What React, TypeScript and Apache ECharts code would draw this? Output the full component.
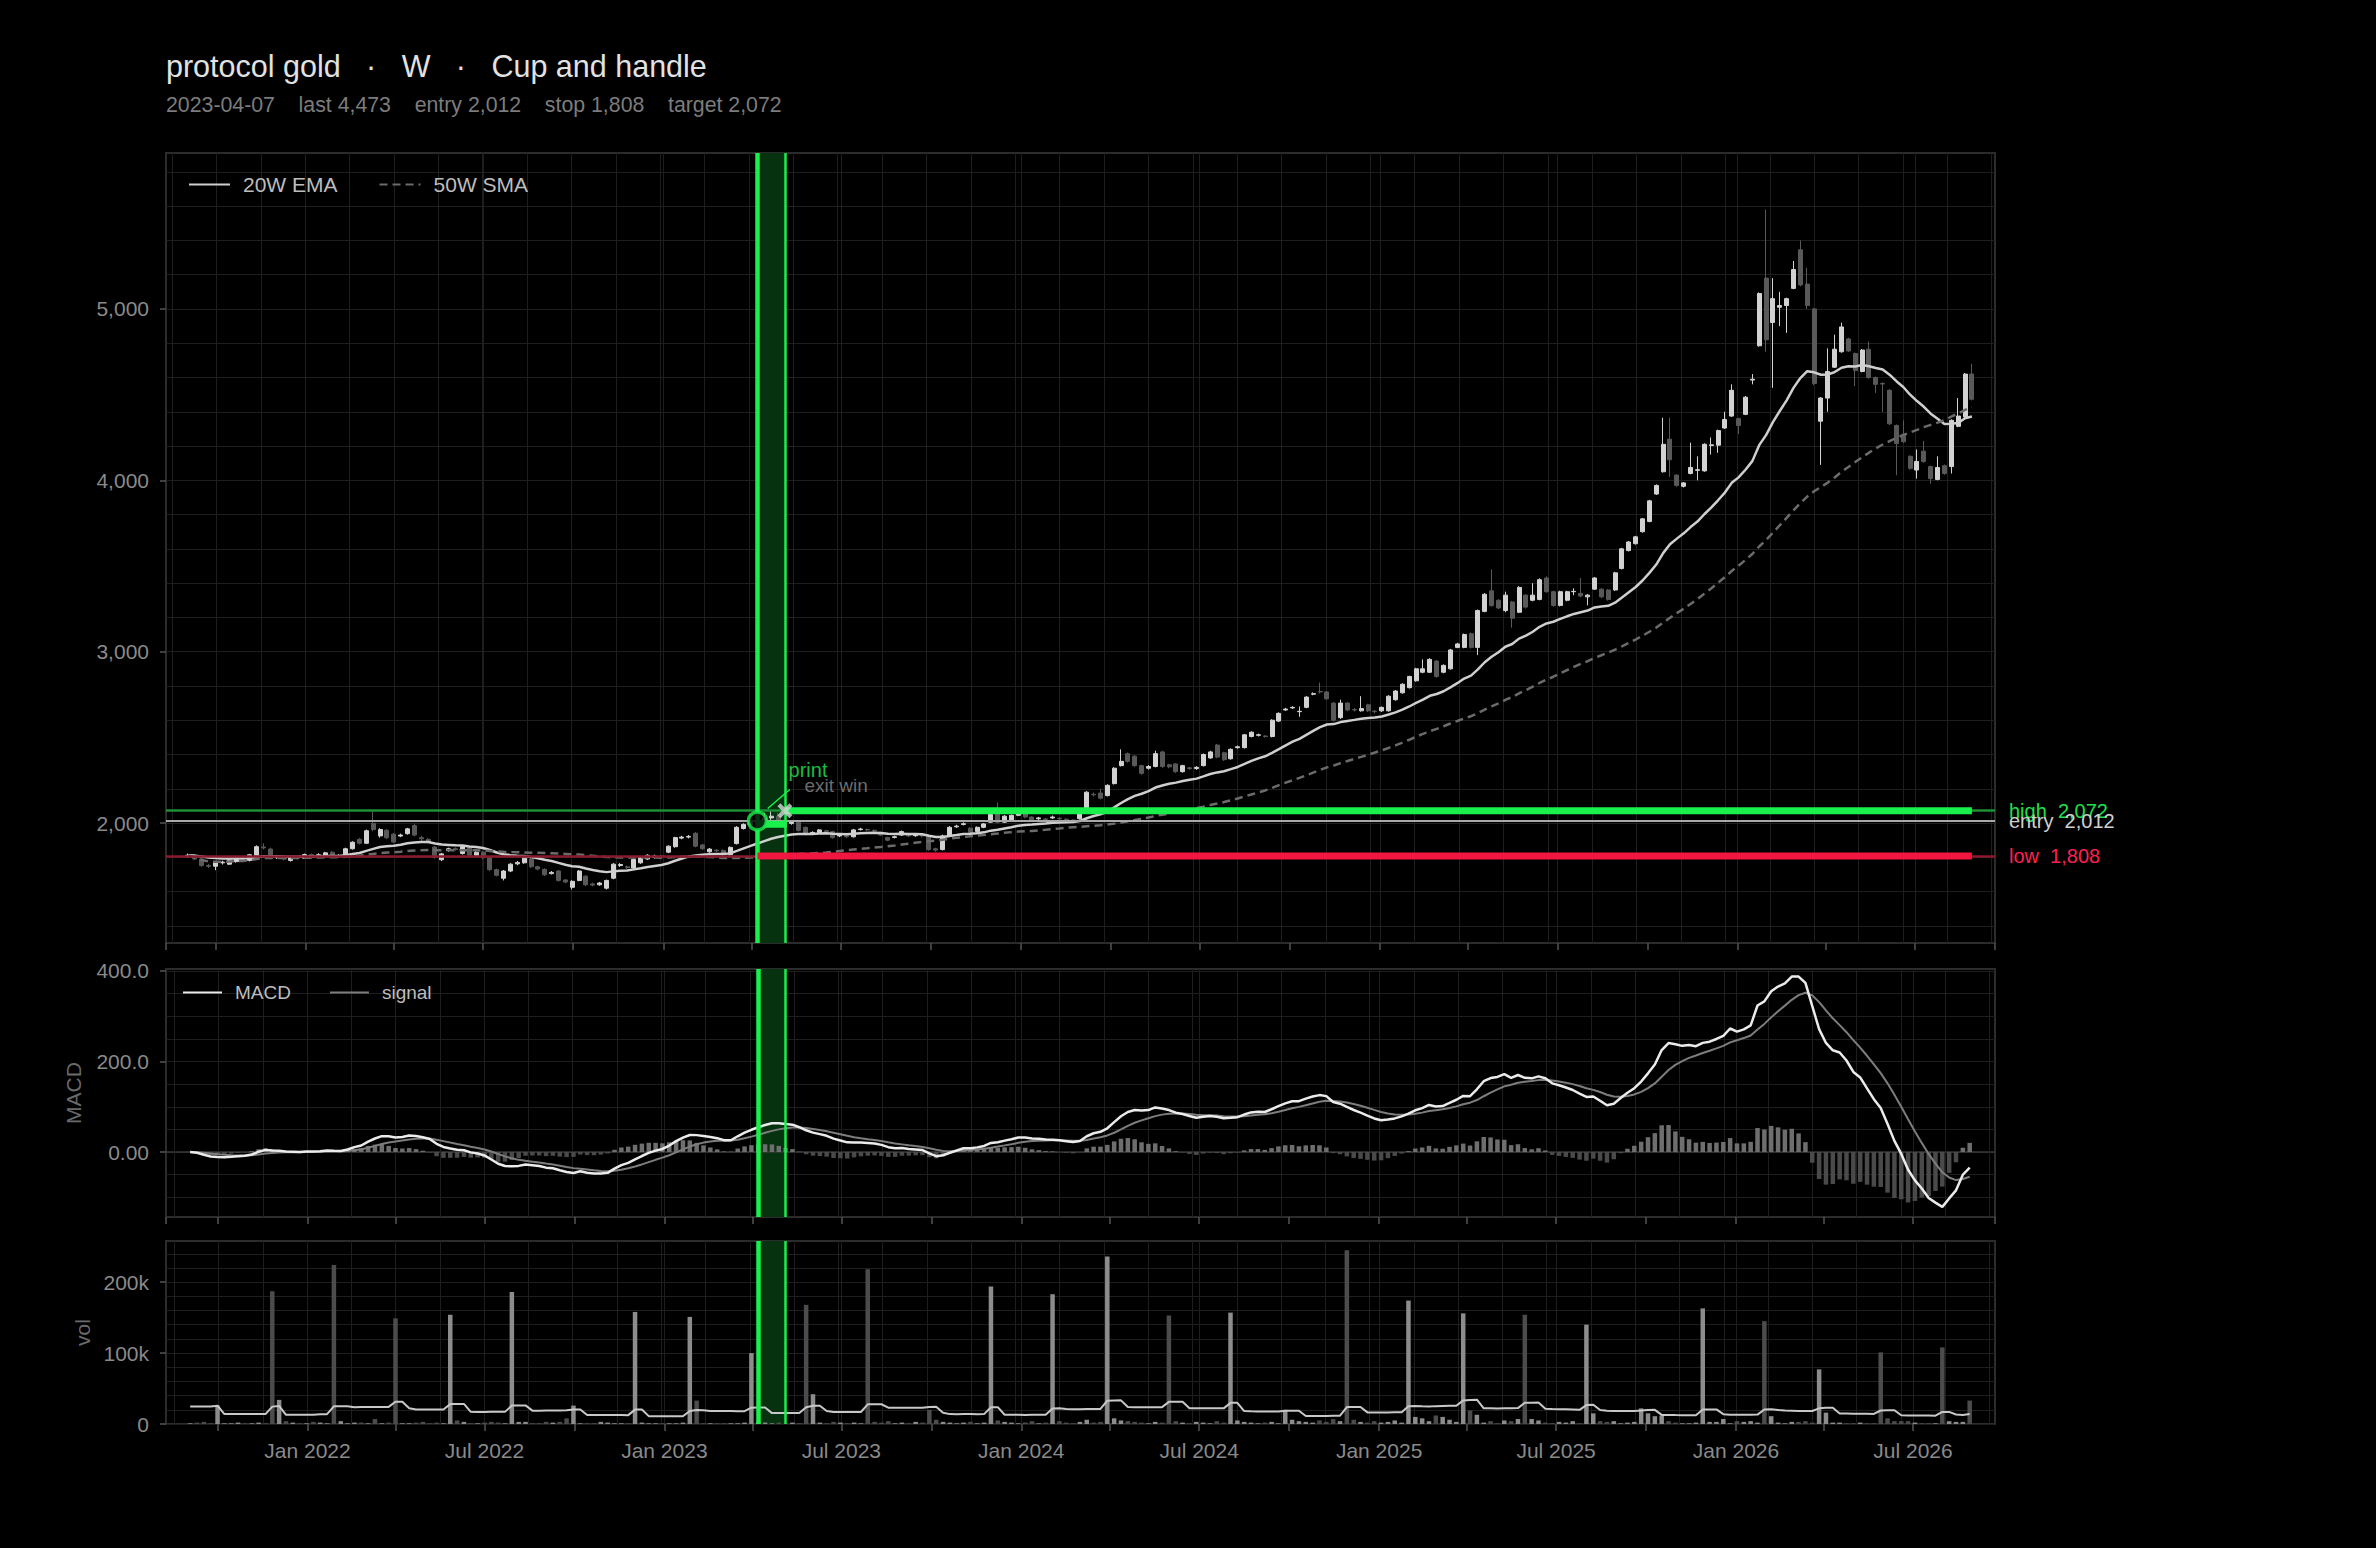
import React, { useEffect, useRef } from "react";
import * as echarts from "echarts";

// ---------- text / trade values ----------
const SYMBOL_NAME = "protocol gold";
const TIMEFRAME = "W";
const PATTERN = "Cup and handle";
const SIGNAL_DATE = "2023-04-07";
const EXIT_DATE = "2023-05-05";
const LAST_PRICE = 4473;
const ENTRY = 2012;
const STOP = 1808;
const TARGET = 2072;
const TRADE_BAR_PRICE = 1993;

// ---------- weekly candles: [open, close, low, high] ----------
const FIRST_WEEK = "2021-09-03";
const CANDLES: number[][] = [
  [1805,1812,1796,1822],[1810,1790,1784,1816],[1790,1752,1745,1796],[1752,1748,1738,1762],[1748,1768,1725,1773],
  [1768,1772,1758,1780],[1760,1785,1755,1790],[1775,1795,1768,1800],[1795,1790,1780,1806],[1782,1815,1776,1820],
  [1812,1862,1806,1870],[1860,1855,1845,1882],[1848,1798,1790,1856],[1798,1806,1790,1814],[1806,1790,1782,1812],
  [1782,1800,1775,1806],[1800,1795,1786,1808],[1795,1816,1790,1822],[1816,1808,1800,1822],[1808,1815,1800,1824],
  [1805,1826,1800,1832],[1830,1806,1798,1838],[1806,1810,1800,1818],[1808,1850,1804,1856],[1850,1888,1845,1894],
  [1905,1882,1875,1912],[1882,1955,1878,1962],[1998,1962,1952,2068],[1925,1962,1915,1970],[1958,1914,1906,1964],
  [1935,1890,1882,1942],[1924,1930,1918,1938],[1938,1966,1932,1972],[1985,1930,1922,1996],[1915,1908,1896,1926],
  [1905,1890,1882,1912],[1860,1800,1792,1866],[1786,1820,1778,1826],[1840,1850,1832,1856],[1850,1846,1838,1858],
  [1822,1862,1816,1868],[1855,1812,1806,1860],[1812,1830,1806,1836],[1830,1798,1790,1836],[1798,1728,1720,1804],
  [1728,1695,1688,1734],[1678,1720,1665,1726],[1720,1760,1714,1766],[1762,1770,1754,1778],[1768,1795,1762,1800],
  [1790,1745,1738,1796],[1745,1732,1724,1750],[1730,1698,1690,1736],[1705,1712,1700,1720],[1720,1665,1658,1726],
  [1668,1656,1648,1672],[1625,1660,1612,1666],[1665,1720,1660,1726],[1690,1640,1632,1696],[1645,1638,1630,1652],
  [1640,1650,1634,1656],[1620,1665,1612,1670],[1678,1760,1672,1766],[1752,1758,1744,1766],[1745,1740,1732,1752],
  [1738,1788,1732,1794],[1768,1800,1762,1806],[1790,1812,1784,1818],[1800,1808,1792,1816],[1808,1806,1798,1814],
  [1830,1865,1824,1870],[1862,1915,1856,1920],[1912,1918,1905,1926],[1918,1922,1910,1930],[1940,1865,1858,1948],
  [1872,1850,1842,1878],[1832,1848,1826,1854],[1842,1838,1830,1846],[1840,1815,1808,1846],[1815,1858,1810,1864],
  [1880,1975,1875,1982],[1968,1992,1962,1998],[1990,2002,1984,2012],[2002,2015,1990,2032],[2015,2030,2005,2060],
  [2030,2040,2018,2072],[2040,2010,2002,2060],[2010,1998,1985,2018],[1998,2006,1990,2012],[2005,1957,1950,2012],
  [1975,1935,1928,1980],[1938,1945,1930,1952],[1945,1960,1940,1965],[1955,1950,1944,1960],[1950,1915,1908,1955],
  [1925,1930,1918,1936],[1926,1920,1912,1932],[1920,1960,1915,1966],[1962,1965,1956,1972],[1962,1960,1952,1968],
  [1958,1955,1948,1962],[1945,1930,1924,1950],[1915,1900,1894,1920],[1916,1920,1910,1926],[1930,1950,1925,1956],
  [1928,1925,1918,1934],[1926,1930,1920,1938],[1930,1925,1916,1936],[1925,1845,1838,1930],[1850,1842,1832,1856],
  [1845,1925,1840,1932],[1925,1975,1920,1982],[1978,1982,1972,1990],[1992,1996,1986,2004],[1970,1945,1938,1976],
  [1950,1975,1944,1980],[1975,1995,1970,2000],[2005,2050,2000,2056],[2060,2005,1998,2120],[2005,2040,2000,2046],
  [2015,2045,2010,2050],[2045,2068,2040,2080],[2060,2035,2028,2066],[2035,2015,2008,2040],[2025,2030,2018,2036],
  [2024,2020,2012,2028],[2030,2035,2024,2044],[2028,2025,2018,2032],[2022,2020,2012,2028],[2018,2015,2008,2022],
  [2025,2070,2020,2076],[2085,2180,2080,2186],[2168,2165,2155,2178],[2175,2145,2138,2200],[2160,2220,2155,2226],
  [2230,2320,2225,2326],[2335,2360,2330,2430],[2405,2360,2352,2412],[2390,2335,2328,2396],[2335,2290,2282,2340],
  [2320,2330,2312,2338],[2330,2405,2325,2422],[2415,2330,2322,2422],[2340,2328,2320,2346],[2345,2300,2292,2350],
  [2300,2335,2294,2340],[2322,2318,2310,2328],[2318,2325,2310,2332],[2335,2400,2330,2406],[2380,2415,2375,2422],
  [2455,2385,2378,2462],[2410,2370,2362,2416],[2375,2430,2370,2436],[2440,2445,2434,2452],[2440,2515,2435,2520],
  [2505,2530,2500,2536],[2512,2515,2505,2522],[2508,2505,2498,2512],[2505,2600,2500,2606],[2595,2640,2590,2646],
  [2660,2665,2655,2672],[2672,2675,2666,2682],[2650,2652,2620,2680],[2675,2735,2670,2740],[2752,2755,2746,2762],
  [2768,2765,2756,2820],[2765,2725,2718,2770],[2700,2600,2592,2706],[2615,2700,2608,2720],[2700,2660,2652,2706],
  [2662,2660,2650,2672],[2655,2668,2650,2740],[2690,2655,2648,2696],[2652,2650,2640,2660],[2655,2675,2648,2680],
  [2655,2740,2650,2746],[2720,2770,2714,2776],[2760,2810,2755,2816],[2790,2855,2785,2860],[2830,2900,2825,2906],
  [2880,2900,2874,2955],[2880,2955,2875,2962],[2945,2855,2848,2952],[2880,2920,2874,2926],[2900,3010,2895,3016],
  [3025,3045,3020,3052],[3025,3100,3020,3106],[3105,3025,3018,3112],[3025,3240,2980,3246],[3235,3335,3230,3342],
  [3355,3270,3262,3480],[3300,3255,3248,3306],[3240,3330,3230,3350],[3290,3195,3140,3296],[3230,3375,3225,3382],
  [3330,3260,3252,3336],[3300,3330,3294,3400],[3305,3420,3300,3428],[3430,3350,3344,3440],[3350,3270,3262,3356],
  [3270,3350,3264,3356],[3300,3350,3294,3356],[3350,3352,3330,3370],[3340,3325,3318,3430],[3320,3330,3270,3336],
  [3365,3430,3360,3436],[3365,3320,3312,3370],[3360,3305,3298,3366],[3360,3460,3355,3466],[3485,3600,3480,3606],
  [3590,3640,3585,3646],[3630,3670,3625,3676],[3700,3775,3695,3780],[3760,3880,3755,3886],[3920,3970,3915,3976],
  [4050,4210,4045,4365],[4240,4120,4020,4365],[4030,3970,3962,4036],[3965,3985,3958,3990],[4040,4075,4035,4220],
  [4058,4062,4000,4140],[4055,4210,4050,4216],[4203,4207,4150,4250],[4205,4290,4160,4296],[4305,4355,4300,4400],
  [4375,4525,4370,4560],[4360,4320,4270,4366],[4385,4485,4380,4492],[4585,4590,4560,4620],[4785,5090,4780,5096],
  [5180,4820,4750,5580],[4921,5060,4540,5180],[5010,5020,4900,5100],[5020,5060,4860,5066],[5120,5230,5115,5280],
  [5345,5140,5132,5400],[5145,5020,5000,5240],[5000,4565,4555,5006],[4345,4480,4090,4486],[4480,4635,4400,4770],
  [4660,4765,4655,4850],[4750,4895,4745,4920],[4825,4755,4748,4832],[4740,4640,4550,4746],[4635,4760,4630,4766],
  [4765,4600,4592,4810],[4600,4560,4510,4606],[4565,4562,4400,4572],[4525,4330,4322,4532],[4320,4215,4030,4326],
  [4265,4225,4218,4350],[4140,4070,4062,4146],[4060,4110,4010,4180],[4170,4110,4102,4230],[4080,4010,3980,4086],
  [4005,4075,4000,4140],[4085,4040,4032,4092],[4080,4350,4040,4356],[4315,4375,4310,4480],[4370,4620,4365,4626],
  [4620,4473,4466,4680]
];

// weekly volume, thousands
const VOLUME_K: number[] = [
  1,2,3,1,26,1,1,2,1,1, 2,1,187,34,4,2,1,1,3,2, 1,224,4,1,2,2,1,7,1,2,
  149,1,1,2,3,1,2,1,154,5, 3,1,1,2,3,2,1,186,3,3, 1,1,3,2,3,8,26,1,1,1,
  3,2,1,1,1,158,2,1,1,1, 1,1,2,151,33,1,1,1,1,1, 1,2,100,3,2,1,2,1,2,1,
  168,42,2,1,3,2,1,2,1,218, 3,2,4,1,2,1,3,2,20,6, 3,2,1,2,3,1,2,194,5,3,
  2,1,2,4,1,2,183,4,2,1, 3,6,2,3,236,8,5,4,3,2, 1,3,2,153,4,2,1,3,2,1,
  4,2,157,5,3,2,1,2,3,1, 20,6,4,3,2,5,3,7,4,245, 6,3,2,4,2,3,5,2,174,10,
  8,4,12,10,6,3,156,19,13,2, 4,1,5,4,7,154,7,5,2,1, 3,2,4,1,140,15,4,3,4,1,
  2,3,22,15,11,12,4,2,1,1, 2,163,3,3,7,1,4,3,4,2, 145,11,2,1,3,3,4,2,77,16,
  2,2,1,1,2,1,1,101,8,4, 4,4,2,1,1,1,108,4,3,3, 33
];
// 20-week volume average for the first weeks (its window starts before the chart)
const VOL_MA_HEAD_K = [24.8,24.8,24.8,24.8,25.8,14,14,14,14,14,14,14,24.5,25.5,13,13,13,13,13];

// ---------- axes ----------
const X_MIN = Date.UTC(2021, 7, 11, 14);
const X_MAX = Date.UTC(2026, 8, 20, 14);
const X_LABEL_DATES = ["2022-01-01","2022-07-01","2023-01-01","2023-07-01","2024-01-01","2024-07-01","2025-01-01","2025-07-01","2026-01-01","2026-07-01"];
const PRICE_TICKS = [2000, 3000, 4000, 5000];
const MACD_TICKS = [0, 200, 400];
const VOL_TICKS = [0, 100000, 200000];
const MONTHS = ["Jan","Feb","Mar","Apr","May","Jun","Jul","Aug","Sep","Oct","Nov","Dec"];

// ---------- annotation anchors ----------
const LEADER_FROM = { date: Date.UTC(2023, 3, 17, 12), price: 2085 };
const LEADER_TO = { date: Date.UTC(2023, 4, 10), price: 2196 };
const PRINT_LABEL = { date: Date.UTC(2023, 4, 8, 5), price: 2307, text: "print" };
const EXITWIN_LABEL = { date: Date.UTC(2023, 4, 24, 12), price: 2220, text: "exit win" };

const FONT = "'Liberation Sans', Arial, Helvetica, sans-serif";
const GRID_LINE = "#1e1e1e";
const GREEN = "#19f04c";
const RED = "#f0163f";
const DAY = 864e5;
const AXIS_FONT = 21;

const fmt = (v: number) => v.toLocaleString("en-US");

function ema(values: number[], n: number) {
  const k = 2 / (n + 1);
  const out: number[] = [];
  values.forEach((v, i) => out.push(i === 0 ? v : v * k + out[i - 1] * (1 - k)));
  return out;
}
function sma(values: number[], n: number) {
  return values.map((_, i) => {
    const s = values.slice(Math.max(0, i - n + 1), i + 1);
    return s.reduce((a, b) => a + b, 0) / s.length;
  });
}

export default function App() {
  const ref = useRef<HTMLDivElement>(null);
  useEffect(() => {
    if (!ref.current) return;
    const chart = echarts.init(ref.current, null, { renderer: "svg" });

    const t0 = Date.parse(FIRST_WEEK);
    const dates = CANDLES.map((_, i) => t0 + i * 7 * DAY);
    const closes = CANDLES.map((c) => c[1]);
    const lastDate = dates[dates.length - 1];
    const sigT = Date.parse(SIGNAL_DATE);
    const exitT = Date.parse(EXIT_DATE);

    const ema20 = ema(closes, 20);
    const sma50 = sma(closes, 50);
    const e12 = ema(closes, 12);
    const e26 = ema(closes, 26);
    const macd = e12.map((v, i) => v - e26[i]);
    const signal = ema(macd, 9);
    const hist = macd.map((v, i) => v - signal[i]);
    const vol = VOLUME_K.map((v) => v * 1000);
    const volMa = vol.map((_, i) =>
      i < VOL_MA_HEAD_K.length
        ? VOL_MA_HEAD_K[i] * 1000
        : vol.slice(i - 19, i + 1).reduce((a, b) => a + b, 0) / 20
    );
    const isUp = (i: number) => CANDLES[i][1] >= CANDLES[i][0];

    const majorTs = X_LABEL_DATES.map((d) => Date.parse(d));
    const gridV: any[] = [];
    for (let t = X_MIN + 6.12 * DAY; t < X_MAX; t += 45.28 * DAY) gridV.push({ xAxis: t });
    majorTs.forEach((t) => gridV.push({ xAxis: t }));
    const gridMarkLine = {
      silent: true, z: 1, symbol: ["none", "none"], label: { show: false },
      lineStyle: { color: GRID_LINE, width: 1, type: "solid" }, data: gridV,
    };
    const bandArea = {
      silent: true, z: 1, itemStyle: { color: "#06320f" },
      data: [[{ xAxis: sigT }, { xAxis: exitT }]],
    };
    const vLines = [
      { xAxis: sigT, lineStyle: { color: GREEN, width: 4.5, type: "solid" } },
      { xAxis: exitT, lineStyle: { color: GREEN, width: 2.5, type: "solid" } },
    ];
    const greenVMarkLine = {
      silent: true, z: 10, symbol: ["none", "none"], label: { show: false }, data: vLines,
    };

    const isMajor = (v: number) => {
      const d = new Date(v);
      return d.getUTCDate() === 1 && d.getUTCHours() === 0 && (d.getUTCMonth() === 0 || d.getUTCMonth() === 6);
    };

    const gridBase = { show: true, borderColor: "#2c2c2c", borderWidth: 2, backgroundColor: "transparent" };
    const grid = [
      { ...gridBase, left: 166, top: 153, width: 1829, height: 790 },
      { ...gridBase, left: 166, top: 969, width: 1829, height: 248 },
      { ...gridBase, left: 166, top: 1241, width: 1829, height: 183 },
    ];
    const xAxis = [0, 1, 2].map((gi) => ({
      type: "time", gridIndex: gi, min: X_MIN, max: X_MAX, splitNumber: 12,
      axisLine: { show: false, onZero: false },
      axisTick: { show: true, length: 7, lineStyle: { color: "#555", width: 1.5 } },
      axisLabel: {
        show: gi === 2, color: "#8a8a8a", fontSize: AXIS_FONT, fontFamily: FONT, margin: 16, hideOverlap: false,
        formatter: (v: number) => {
          if (!isMajor(v)) return "";
          const d = new Date(v);
          return `${MONTHS[d.getUTCMonth()]} ${d.getUTCFullYear()}`;
        },
      },
      splitLine: { show: false },
    }));
    const yCommon = (ticks: number[], formatter: (v: number) => string, minorSplit: number) => ({
      type: "value",
      axisLine: { show: false },
      axisTick: { show: true, length: 6, lineStyle: { color: "#555", width: 1.5 }, customValues: ticks },
      axisLabel: { customValues: ticks, formatter, color: "#8a8a8a", fontSize: AXIS_FONT, fontFamily: FONT, margin: 17 },
      splitLine: { show: true, lineStyle: { color: GRID_LINE, width: 1 } },
      minorTick: { show: false, splitNumber: minorSplit },
      minorSplitLine: { show: true, lineStyle: { color: GRID_LINE, width: 1 } },
    });
    const yAxis = [
      { ...yCommon(PRICE_TICKS, (v) => fmt(v), 5), gridIndex: 0, min: 1300, max: 5910, splitNumber: 4 },
      {
        ...yCommon(MACD_TICKS, (v) => (v === 0 ? "0.00" : v.toFixed(1)), 4), gridIndex: 1, min: -143.6, max: 404.4, splitNumber: 3,
        name: "MACD", nameLocation: "middle", nameGap: 82, nameTextStyle: { color: "#6a6a6a", fontSize: AXIS_FONT, fontFamily: FONT },
      },
      {
        ...yCommon(VOL_TICKS, (v) => (v === 0 ? "0" : `${v / 1000}k`), 5), gridIndex: 2, min: 0, max: 258000, splitNumber: 3,
        name: "vol", nameLocation: "middle", nameGap: 73, nameTextStyle: { color: "#6a6a6a", fontSize: AXIS_FONT, fontFamily: FONT },
      },
    ];

    const levelLine = (value: number, color: string, width: number, text: string, textColor: string) => ({
      yAxis: value,
      lineStyle: { color, width, type: "solid" },
      label: { show: true, position: "end", distance: 14, formatter: text, color: textColor, fontSize: 20, fontFamily: FONT },
    });

    const nb = "\u00a0";
    const sep = `${nb}${nb}${nb}·${nb}${nb}${nb}`;
    const sub = [SIGNAL_DATE, `last ${fmt(LAST_PRICE)}`, `entry ${fmt(ENTRY)}`, `stop ${fmt(STOP)}`, `target ${fmt(TARGET)}`].join(nb.repeat(4));

    const series: any[] = [
      {
        name: "price", type: "candlestick", xAxisIndex: 0, yAxisIndex: 0, z: 3,
        data: CANDLES.map((c, i) => [dates[i], c[0], c[1], c[2], c[3]]),
        encode: { x: 0, y: [1, 2, 3, 4] },
        barWidth: 4.5,
        itemStyle: { color: "#d2d2d2", color0: "#595959", borderColor: "#d2d2d2", borderColor0: "#595959", borderWidth: 1 },
        markArea: bandArea,
        markLine: {
          silent: true, z: 10, symbol: ["none", "none"],
          data: [
            levelLine(TARGET, "#1d8f34", 2.5, `high${nb}${nb}${fmt(TARGET)}`, "#1fe04a"),
            levelLine(ENTRY, "#a8a8a8", 2, `entry${nb}${nb}${fmt(ENTRY)}`, "#d0d0d0"),
            levelLine(STOP, "#8a1a2e", 2.5, `low${nb}${nb}${fmt(STOP)}`, "#ff2050"),
            ...vLines.map((v) => ({ ...v, label: { show: false } })),
          ],
        },
      },
      {
        name: "20W EMA", type: "line", xAxisIndex: 0, yAxisIndex: 0, z: 4, symbol: "none", showSymbol: false,
        data: ema20.map((v, i) => [dates[i], v]),
        lineStyle: { color: "#cfcfcf", width: 2.5 }, itemStyle: { color: "#cfcfcf" },
        markLine: gridMarkLine,
      },
      {
        name: "50W SMA", type: "line", xAxisIndex: 0, yAxisIndex: 0, z: 4, symbol: "none", showSymbol: false,
        data: sma50.map((v, i) => [dates[i], v]),
        lineStyle: { color: "#6b6b6b", width: 2.5, type: [8, 5] }, itemStyle: { color: "#6b6b6b" },
      },
      {
        name: "targetBar", type: "line", xAxisIndex: 0, yAxisIndex: 0, z: 11, symbol: "none", silent: true,
        data: [[exitT, TARGET], [lastDate, TARGET]], lineStyle: { color: GREEN, width: 7 },
      },
      {
        name: "stopBar", type: "line", xAxisIndex: 0, yAxisIndex: 0, z: 11, symbol: "none", silent: true,
        data: [[sigT, STOP], [lastDate, STOP]], lineStyle: { color: RED, width: 7 },
      },
      {
        name: "tradeBar", type: "line", xAxisIndex: 0, yAxisIndex: 0, z: 11, symbol: "none", silent: true,
        data: [[sigT, TRADE_BAR_PRICE], [exitT + 2 * DAY, TRADE_BAR_PRICE]], lineStyle: { color: GREEN, width: 7 },
      },
      {
        name: "leader", type: "line", xAxisIndex: 0, yAxisIndex: 0, z: 11, symbol: "none", silent: true,
        data: [[LEADER_FROM.date, LEADER_FROM.price], [LEADER_TO.date, LEADER_TO.price]], lineStyle: { color: GREEN, width: 1.5 },
      },
      {
        name: "entryMark", type: "scatter", xAxisIndex: 0, yAxisIndex: 0, z: 12, silent: true,
        symbol: "circle", symbolSize: 18,
        data: [[sigT, ENTRY]], itemStyle: { color: "#000", borderColor: GREEN, borderWidth: 3.5 },
      },
      {
        name: "exitMark", type: "scatter", xAxisIndex: 0, yAxisIndex: 0, z: 12, silent: true,
        symbol: "path://M2,0 L5,3 L8,0 L10,2 L7,5 L10,8 L8,10 L5,7 L2,10 L0,8 L3,5 L0,2 Z", symbolSize: 15,
        data: [[exitT, TARGET]], itemStyle: { color: "#d8d8d8" },
      },
      {
        name: "notes", type: "scatter", xAxisIndex: 0, yAxisIndex: 0, z: 13, silent: true,
        symbol: "circle", symbolSize: 1, itemStyle: { color: "rgba(0,0,0,0)" },
        label: { show: true, position: "right", distance: 0, fontSize: 20, fontFamily: FONT },
        data: [
          { value: [PRINT_LABEL.date, PRINT_LABEL.price], label: { show: true, formatter: PRINT_LABEL.text, color: "#22f050" } },
          { value: [EXITWIN_LABEL.date, EXITWIN_LABEL.price], label: { show: true, formatter: EXITWIN_LABEL.text, color: "#8a8a8a", fontSize: 19 } },
        ],
      },
      // MACD panel
      {
        name: "hist", type: "bar", xAxisIndex: 1, yAxisIndex: 1, z: 2, barWidth: 4.5,
        data: hist.map((v, i) => [dates[i], v]),
        itemStyle: { color: (p: any) => (p.value[1] >= 0 ? "#6e6e6e" : "#4a4a4a") },
        markArea: bandArea,
        markLine: {
          silent: true, z: 1, symbol: ["none", "none"], label: { show: false },
          lineStyle: { color: "#3a3a3a", width: 1.5, type: "solid" }, data: [{ yAxis: 0 }],
        },
      },
      {
        name: "MACD", type: "line", xAxisIndex: 1, yAxisIndex: 1, z: 4, symbol: "none", showSymbol: false,
        data: macd.map((v, i) => [dates[i], v]),
        lineStyle: { color: "#ebebeb", width: 2.5 }, itemStyle: { color: "#ebebeb" },
        markLine: greenVMarkLine,
      },
      {
        name: "signal", type: "line", xAxisIndex: 1, yAxisIndex: 1, z: 3, symbol: "none", showSymbol: false,
        data: signal.map((v, i) => [dates[i], v]),
        lineStyle: { color: "#7d7d7d", width: 2 }, itemStyle: { color: "#7d7d7d" },
        markLine: gridMarkLine,
      },
      // volume panel
      {
        name: "vol", type: "bar", xAxisIndex: 2, yAxisIndex: 2, z: 2, barWidth: 4.5,
        data: vol.map((v, i) => [dates[i], v]),
        itemStyle: { color: (p: any) => (isUp(p.dataIndex) ? "#8c8c8c" : "#4c4c4c") },
        markArea: bandArea,
        markLine: greenVMarkLine,
      },
      {
        name: "volMa", type: "line", xAxisIndex: 2, yAxisIndex: 2, z: 4, symbol: "none", showSymbol: false,
        data: volMa.map((v, i) => [dates[i], v]),
        lineStyle: { color: "#c8c8c8", width: 2 },
        markLine: gridMarkLine,
      },
    ];

    const legendBase = {
      orient: "horizontal", padding: 0, itemHeight: 14, selectedMode: false,
      itemStyle: { color: "rgba(0,0,0,0)", borderWidth: 0 },
    };

    chart.setOption({
      animation: false,
      backgroundColor: "#000",
      useUTC: true,
      textStyle: { fontFamily: FONT },
      title: {
        text: `${SYMBOL_NAME}${sep}${TIMEFRAME}${sep}${PATTERN}`,
        subtext: sub,
        left: 166, top: 50, padding: 0, itemGap: 13,
        textStyle: { color: "#e2e2e2", fontSize: 30.5, fontWeight: "normal", fontFamily: FONT },
        subtextStyle: { color: "#7c7c7c", fontSize: 21.3, fontFamily: FONT },
      },
      legend: [
        {
          ...legendBase, data: ["20W EMA", "50W SMA"], left: 188, top: 174, itemWidth: 41, itemGap: 41,
          textStyle: { color: "#bdbdbd", fontSize: 21, fontFamily: FONT, padding: [0, 0, 0, 8] },
        },
        {
          ...legendBase, data: ["MACD", "signal"], left: 182, top: 983, itemWidth: 39, itemGap: 38,
          textStyle: { color: "#bdbdbd", fontSize: 19, fontFamily: FONT, padding: [0, 0, 0, 8] },
        },
      ],
      grid, xAxis, yAxis, series,
    });
    return () => chart.dispose();
  }, []);
  return <div ref={ref} style={{ position: "fixed", left: 0, top: 0, width: 2376, height: 1548 }} />;
}
